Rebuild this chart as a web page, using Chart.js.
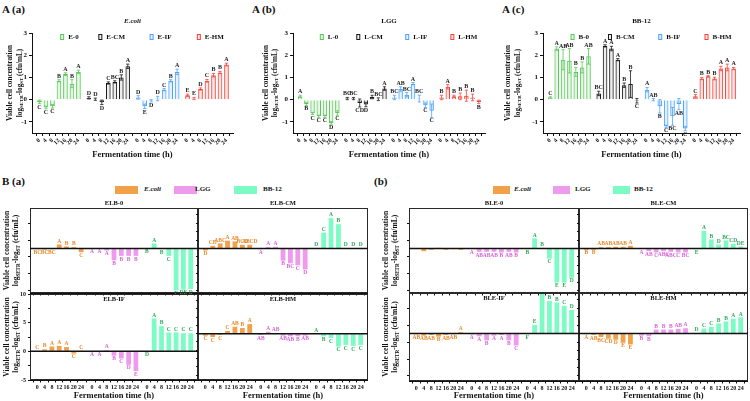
<!DOCTYPE html>
<html lang="en">
<head>
<meta charset="UTF-8">
<title>Viable cell concentration during fermentation</title>
<script src="https://cdn.jsdelivr.net/npm/chart.js"></script>
<style>
  body {
    margin: 0;
    width: 750px;
    height: 401px;
    overflow: hidden;
    position: relative;
    background: #fff;
    font-family: 'Liberation Serif', 'Times New Roman', serif;
    color: #111;
  }
  .lab { position: absolute; font-weight: bold; white-space: nowrap; line-height: 1; }
  .sw { position: absolute; width: 23px; height: 8px; }
  .sw.narrow { width: 17px; }
  canvas { position: absolute; }
</style>
</head>
<body>

<div class="lab" style="left:2px;top:4px;font-size:11px">A (a)</div>
<div class="lab" style="left:252px;top:4px;font-size:11px">A (b)</div>
<div class="lab" style="left:502px;top:4px;font-size:11px">A (c)</div>
<div class="lab" style="left:2px;top:176px;font-size:11px">B (a)</div>
<div class="lab" style="left:374px;top:176px;font-size:11px">(b)</div>

<div class="sw" style="left:115px;top:186px;background:#f2a04a"></div>
<div class="lab" style="left:144px;top:186px;font-size:7px;font-style:italic">E.coli</div>
<div class="sw" style="left:174px;top:186px;background:#ee9bee"></div>
<div class="lab" style="left:195px;top:186px;font-size:7px">LGG</div>
<div class="sw" style="left:234px;top:186px;background:#7dfbc4"></div>
<div class="lab" style="left:263px;top:186px;font-size:7px">BB-12</div>

<div class="sw narrow" style="left:493px;top:186px;background:#f2a04a"></div>
<div class="lab" style="left:514px;top:186px;font-size:7px;font-style:italic">E.coli</div>
<div class="sw narrow" style="left:553px;top:186px;background:#ee9bee"></div>
<div class="lab" style="left:575px;top:186px;font-size:7px">LGG</div>
<div class="sw narrow" style="left:613px;top:186px;background:#7dfbc4"></div>
<div class="lab" style="left:634px;top:186px;font-size:7px">BB-12</div>

<script>
// ---------- data ----------
const timeLabels = ['0', '4', '8', '12', '16', '20', '24'];
const aYTicks = [-1, 0, 1, 2, 3];
const bMajorTicks = [-10, -5, 0, 5, 10];

// A (a) E.coli
const ecoliSeries = ['E-0', 'E-CM', 'E-IF', 'E-HM'];
const ecoliMeans = [
  [-0.10, -0.35, -0.30, 0.85, 1.15, 0.72, 1.25],
  [0.08, 0.02, -0.12, 0.75, 0.80, 1.00, 1.50],
  [0.10, -0.30, -0.05, 0.05, 0.45, 0.85, 1.25],
  [0.20, 0.05, 0.48, 0.85, 1.10, 1.22, 1.58]
];
const ecoliSd = [
  [0.08, 0.06, 0.08, 0.05, 0.06, 0.18, 0.08],
  [0.05, 0.05, 0.10, 0.05, 0.05, 0.12, 0.10],
  [0.08, 0.10, 0.05, 0.10, 0.05, 0.05, 0.12],
  [0.05, 0.05, 0.05, 0.06, 0.08, 0.05, 0.06]
];
const ecoliLetters = [
  ['C', 'C', 'C', 'B', 'A', 'B', 'A'],
  ['D', 'D', 'D', 'C', 'BC', 'B', 'A'],
  ['D', 'E', 'D', 'D', 'C', 'B', 'A'],
  ['E', 'E', 'D', 'C', 'B', 'B', 'A']
];

// A (b) LGG
const lggSeries = ['L-0', 'L-CM', 'L-IF', 'L-HM'];
const lggMeans = [
  [0.15, -0.20, -0.62, -0.75, -0.75, -1.05, -0.60],
  [0.05, 0.05, -0.15, -0.22, 0.12, 0.02, 0.50],
  [0.10, 0.48, 0.22, 0.72, 0.05, -0.25, -0.50],
  [0.10, 0.58, 0.15, 0.15, 0.18, 0.10, -0.10]
];
const lggSd = [
  [0.05, 0.06, 0.05, 0.05, 0.05, 0.06, 0.10],
  [0.05, 0.05, 0.18, 0.10, 0.08, 0.06, 0.08],
  [0.10, 0.10, 0.10, 0.05, 0.15, 0.10, 0.30],
  [0.10, 0.10, 0.05, 0.15, 0.25, 0.15, 0.08]
];
const lggLetters = [
  ['A', 'B', 'C', 'C', 'C', 'D', 'C'],
  ['BC', 'BC', 'CD', 'D', 'B', 'BC', 'A'],
  ['BC', 'AB', 'BC', 'A', 'BC', 'C', 'C'],
  ['B', 'A', 'B', 'B', 'B', 'B', 'B']
];

// A (c) BB-12
const bb12Series = ['B-0', 'B-CM', 'B-IF', 'B-HM'];
const bb12Means = [
  [0.10, 2.30, 1.80, 1.75, 1.25, 1.45, 1.95],
  [0.28, 2.42, 2.30, 1.80, 0.65, 0.70, -0.05],
  [0.45, 0.00, -0.30, -1.20, -0.75, -0.20, -1.30],
  [0.15, 0.95, 1.05, 0.95, 1.40, 1.45, 1.40]
];
const bb12Sd = [
  [0.03, 0.08, 0.45, 0.55, 0.20, 0.25, 0.35],
  [0.10, 0.05, 0.10, 0.05, 0.10, 0.60, 0.10],
  [0.10, 0.05, 0.30, 0.05, 0.40, 0.25, 0.10],
  [0.08, 0.05, 0.03, 0.06, 0.10, 0.15, 0.05]
];
const bb12Letters = [
  ['C', 'A', 'AB', 'AB', 'B', 'B', 'AB'],
  ['BC', 'A', 'A', 'A', 'B', 'B', 'C'],
  ['A', 'AB', 'B', 'C', 'BC', 'AB', 'C'],
  ['C', 'B', 'B', 'B', 'A', 'A', 'A']
];

// B co-cultures: rows are E.coli, LGG, BB-12
const strains = ['E.coli', 'LGG', 'BB-12'];

const elb0Means = [
  [-0.10, -0.15, -0.10, 0.60, 0.30, 0.20, -0.55],
  [-0.05, -0.05, -0.30, -1.75, -1.10, -1.10, -1.10],
  [-0.05, 0.75, -0.10, -1.10, -6.20, -6.10, -6.00]
];
const elb0Letters = [
  ['BC', 'BC', 'BC', 'A', 'B', 'B', 'C'],
  ['A', 'A', 'A', 'B', 'B', 'B', 'B'],
  ['B', 'A', 'B', 'C', 'E', 'DE', 'D']
];
const elbCmMeans = [
  [-0.30, 0.40, 0.75, 1.15, 1.05, 0.55, 0.55],
  [-0.10, 0.20, 0.25, -1.80, -2.20, -2.50, -3.10],
  [0.05, 2.35, 4.50, 3.60, 0.05, 0.05, 0.05]
];
const elbCmLetters = [
  ['D', 'CD', 'ABC', 'A', 'AB', 'BCD', 'ABCD'],
  ['A', 'A', 'A', 'B', 'BC', 'C', 'D'],
  ['D', 'C', 'A', 'B', 'D', 'D', 'D']
];
const elbIfMeans = [
  [0.05, 0.35, 0.85, 0.95, 0.75, -0.40, 0.05],
  [-0.05, -0.05, 0.20, -0.75, -1.25, -2.35, -3.45],
  [-0.05, 5.75, 4.40, 3.30, 3.30, 3.15, 3.15]
];
const elbIfLetters = [
  ['C', 'B', 'A', 'A', 'A', 'C', 'C'],
  ['A', 'A', 'A', 'B', 'C', 'D', 'E'],
  ['D', 'A', 'B', 'C', 'C', 'C', 'C']
];
const elbHmMeans = [
  [-0.30, -0.50, -0.20, 0.40, 1.05, 0.85, 1.45],
  [-0.20, 0.30, 0.10, -0.30, -0.40, -0.40, -0.30],
  [0.05, -0.40, -0.65, -1.95, -1.70, -1.85, -1.70]
];
const elbHmLetters = [
  ['C', 'C', 'C', 'C', 'AB', 'B', 'A'],
  ['AB', 'A', 'AB', 'AB', 'AB', 'B', 'AB'],
  ['A', 'B', 'C', 'C', 'C', 'C', 'C']
];

const ble0Means = [
  [-0.10, -0.40, -0.20, 0.10, -0.20, -0.10, -0.20],
  [-0.10, -0.50, -0.50, -0.50, -0.60, -0.50, -0.60],
  [-0.10, 1.50, 0.10, -1.50, -5.05, -5.05, -4.35]
];
const ble0Letters = [
  ['', '', '', '', '', '', ''],
  ['A', 'AB', 'AB', 'AB', 'B', 'AB', 'B'],
  ['B', 'A', 'B', 'C', 'E', 'E', 'D']
];
const bleCmMeans = [
  [-0.20, -0.20, 0.20, 0.20, 0.25, 0.25, 0.40],
  [-0.10, -0.40, -0.60, -0.40, -0.50, -0.60, -0.60],
  [-0.10, 2.60, 1.35, 0.60, 1.20, 0.70, 0.30]
];
const bleCmLetters = [
  ['B', 'B', 'AB', 'AB', 'AB', 'AB', 'A'],
  ['A', 'AB', 'C', 'ABC', 'ABC', 'C', 'BC'],
  ['E', 'A', 'B', 'D', 'BC', 'CD', 'DE']
];
const bleIfMeans = [
  [-0.10, -0.30, -0.20, -0.45, -0.20, -0.10, 0.20],
  [-0.10, -0.40, -1.00, -0.30, -0.20, -1.00, -1.75],
  [-0.10, 1.30, 6.10, 4.85, 4.60, 4.10, 3.50]
];
const bleIfLetters = [
  ['AB', 'AB', 'AB', 'B', 'AB', 'AB', 'A'],
  ['A', 'A', 'B', 'A', 'A', 'B', 'C'],
  ['F', 'E', 'A', 'B', 'B', 'C', 'D']
];
const bleHmMeans = [
  [-0.10, -0.20, -0.50, -0.75, -0.90, -1.35, -1.60],
  [-0.30, -0.40, 0.60, 0.60, 0.60, 0.70, 0.80],
  [0.10, 0.75, 1.00, 1.50, 1.80, 2.20, 2.40]
];
const bleHmLetters = [
  ['A', 'AB', 'BC', 'CD', 'D', 'E', 'E'],
  ['B', 'B', 'B', 'B', 'B', 'AB', 'A'],
  ['D', 'C', 'C', 'B', 'B', 'A', 'A']
];

// ---------- styling ----------
const SERIF = "'Liberation Serif', 'Times New Roman', serif";
const groupColors = ['#57c957', '#1a1a1a', '#4aa3ff', '#f0463c'];
const groupFills = ['rgba(87,201,87,0.15)', 'rgba(26,26,26,0.08)', 'rgba(74,163,255,0.15)', 'rgba(240,70,60,0.15)'];
const strainFills = ['#f2a04a', '#ee9bee', '#7dfbc4'];
const strainText = ['#e8892a', '#d763d7', '#2ea85a'];
const yTitle1 = 'Viable cell concentration';
const yTitle2 = [{ t: 'log' }, { t: 'SETR', sub: true }, { t: '-log' }, { t: 'ST', sub: true }, { t: ' (cfu/mL)' }];

const A_STRIDE = 7.6;   // slots between time-series groups, top row
const B_STRIDE = 7.5;   // bottom row

Chart.defaults.font.family = SERIF;
Chart.defaults.font.weight = 'bold';
Chart.defaults.color = '#111';
Chart.defaults.animation = false;
Chart.defaults.plugins.legend.display = false;
Chart.defaults.plugins.tooltip.enabled = false;

function slotPositions(groups, stride) {
  const out = [];
  for (let g = 0; g < groups; g++) {
    timeLabels.forEach((_, i) => out.push(g * stride + i));
  }
  return out;
}

// error bars + significance letters
const marks = {
  id: 'marks',
  afterDatasetsDraw(chart, args, opts) {
    const { ctx } = chart;
    const y = chart.scales.y;
    ctx.save();
    ctx.font = `bold ${opts.size}px ${SERIF}`;
    ctx.textAlign = 'center';
    chart.data.datasets.forEach((ds, di) => {
      chart.getDatasetMeta(di).data.forEach((bar, j) => {
        const v = ds.data[j].y;
        const e = ds.err ? ds.err[j] : 0;
        const up = v >= 0;
        if (e) {
          const y1 = y.getPixelForValue(v + e), y2 = y.getPixelForValue(v - e);
          const w = bar.width * 0.35;
          ctx.strokeStyle = ds.borderColor;
          ctx.lineWidth = 0.8;
          ctx.beginPath();
          ctx.moveTo(bar.x, y1); ctx.lineTo(bar.x, y2);
          ctx.moveTo(bar.x - w, y1); ctx.lineTo(bar.x + w, y1);
          ctx.moveTo(bar.x - w, y2); ctx.lineTo(bar.x + w, y2);
          ctx.stroke();
        }
        const tip = y.getPixelForValue(up ? v + e : v - e);
        ctx.fillStyle = ds.textColor;
        ctx.textBaseline = up ? 'bottom' : 'top';
        ctx.fillText(ds.letters[j], bar.x, up ? tip - 0.5 : tip + 0.5);
      });
    });
    ctx.restore();
  }
};

function drawYTitle(ctx, area, o) {
  const cy = (area.top + area.bottom) / 2;
  const s = o.size;
  ctx.save();
  ctx.fillStyle = '#111';
  ctx.textBaseline = 'middle';
  ctx.translate(o.x1, cy);
  ctx.rotate(-Math.PI / 2);
  ctx.font = `bold ${s}px ${SERIF}`;
  ctx.textAlign = 'center';
  ctx.fillText(yTitle1, 0, 0);
  ctx.restore();

  ctx.save();
  ctx.fillStyle = '#111';
  ctx.textBaseline = 'middle';
  ctx.translate(o.x2, cy);
  ctx.rotate(-Math.PI / 2);
  const fontFor = p => `bold ${p.sub ? s * 0.68 : s}px ${SERIF}`;
  let total = 0;
  yTitle2.forEach(p => { ctx.font = fontFor(p); total += ctx.measureText(p.t).width; });
  let x = -total / 2;
  ctx.textAlign = 'left';
  yTitle2.forEach(p => {
    ctx.font = fontFor(p);
    ctx.fillText(p.t, x, p.sub ? s * 0.3 : 0);
    x += ctx.measureText(p.t).width;
  });
  ctx.restore();
}

// titles, legends, frames
const deco = {
  id: 'deco',
  afterDraw(chart, args, o) {
    const { ctx, chartArea: a } = chart;
    const cx = (a.left + a.right) / 2;
    ctx.save();
    if (o.frame) {
      ctx.strokeStyle = '#2a2a2a';
      ctx.lineWidth = 1;
      ctx.strokeRect(a.left + 0.5, a.top + 0.5, a.width - 1, a.height - 1);
      const y0 = chart.scales.y.getPixelForValue(0);
      ctx.strokeStyle = '#111';
      ctx.lineWidth = 1.5;
      ctx.beginPath(); ctx.moveTo(a.left, y0); ctx.lineTo(a.right, y0); ctx.stroke();
    }
    if (o.title) {
      ctx.fillStyle = '#111';
      ctx.font = `${o.title.italic ? 'italic ' : ''}bold ${o.title.size}px ${SERIF}`;
      ctx.textAlign = 'center';
      ctx.textBaseline = 'middle';
      ctx.fillText(o.title.text, cx, a.top + o.title.dy);
    }
    if (o.legend) {
      chart.data.datasets.forEach((ds, i) => {
        const x = a.left + a.width * o.legend[i];
        const y = a.top + 4;
        ctx.lineWidth = 1;
        ctx.strokeStyle = ds.borderColor;
        ctx.fillStyle = ds.backgroundColor;
        ctx.fillRect(x - 1.5, y - 2.5, 3, 5);
        ctx.strokeRect(x - 1.5, y - 2.5, 3, 5);
        ctx.fillStyle = '#111';
        ctx.font = `bold 7px ${SERIF}`;
        ctx.textAlign = 'left';
        ctx.textBaseline = 'middle';
        ctx.fillText(ds.label, x + 6, y);
      });
    }
    ctx.restore();
    if (o.yTitle) drawYTitle(ctx, a, o.yTitle);
  }
};

function makeCanvas(left, top, width, height) {
  const c = document.createElement('canvas');
  c.width = width; c.height = height;
  c.style.left = left + 'px'; c.style.top = top + 'px';
  document.body.appendChild(c);
  return c;
}

const axisLine = { color: '#111', width: 1 };
const tickGrid = { display: true, drawOnChartArea: false, tickLength: 3, color: '#111' };

function topChart(canvas, p) {
  const n = p.means.length;
  return new Chart(canvas, {
    type: 'bar',
    data: {
      datasets: p.means.map((vals, g) => ({
        label: p.series[g],
        data: vals.map((v, i) => ({ x: g * A_STRIDE + i, y: v })),
        err: p.sd[g],
        letters: p.letters[g],
        textColor: '#1a1a1a',
        borderColor: groupColors[g],
        backgroundColor: groupFills[g],
        borderWidth: 1,
        grouped: false,
        barPercentage: 0.72,
        categoryPercentage: 1
      }))
    },
    options: {
      responsive: false,
      layout: { padding: { top: 33, right: p.padRight, left: 0, bottom: 0 } },
      scales: {
        x: {
          type: 'linear',
          min: -0.6,
          max: (n - 1) * A_STRIDE + 6.45,
          afterBuildTicks: s => { s.ticks = slotPositions(n, A_STRIDE).map(v => ({ value: v })); },
          afterFit: s => { s.height = 27; s.paddingLeft = 0; s.paddingRight = 0; },
          ticks: { autoSkip: false, minRotation: 45, maxRotation: 45, padding: 1, font: { size: 6 },
                   callback: (v, i) => timeLabels[i % timeLabels.length] },
          grid: tickGrid,
          border: axisLine,
          title: { display: true, text: 'Fermentation time (h)', font: { size: 8.5 }, padding: 0 }
        },
        y: {
          min: -1.5,
          max: 3,
          afterBuildTicks: s => { s.ticks = aYTicks.map(v => ({ value: v })); },
          afterFit: s => { s.width = p.yw; s.paddingTop = 0; s.paddingBottom = 0; },
          ticks: { font: { size: 7 }, padding: 2 },
          grid: tickGrid,
          border: axisLine
        }
      },
      plugins: {
        marks: { size: 6 },
        deco: {
          title: { text: p.title, italic: p.italic, size: 7, dy: -12 },
          legend: [0.15, 0.34, 0.595, 0.83],
          yTitle: { x1: p.tx1, x2: p.tx2, size: 7.2 }
        }
      }
    },
    plugins: [marks, deco]
  });
}

function subChart(canvas, p) {
  return new Chart(canvas, {
    type: 'bar',
    data: {
      datasets: p.means.map((vals, g) => ({
        label: strains[g],
        data: vals.map((v, i) => ({ x: g * B_STRIDE + i, y: v })),
        letters: p.letters[g],
        textColor: strainText[g],
        backgroundColor: strainFills[g],
        borderWidth: 0,
        grouped: false,
        barPercentage: 0.65,
        categoryPercentage: 1
      }))
    },
    options: {
      responsive: false,
      layout: { padding: { top: p.padTop, right: 0, left: 0, bottom: 0 } },
      scales: {
        x: {
          type: 'linear',
          min: -0.45,
          max: 2 * B_STRIDE + 6.45,
          afterBuildTicks: s => { s.ticks = slotPositions(3, B_STRIDE).map(v => ({ value: v })); },
          afterFit: s => { s.height = p.xh; s.paddingLeft = 0; s.paddingRight = 0; },
          ticks: { display: p.bottom, autoSkip: false, maxRotation: 0, padding: 1, font: { size: 6 },
                   callback: (v, i) => timeLabels[i % timeLabels.length] },
          grid: { ...tickGrid, tickLength: 2.5 },
          border: axisLine,
          title: { display: p.bottom, text: 'Fermentation time (h)', font: { size: 8.5 }, padding: 0 }
        },
        y: {
          min: p.yMin,
          max: p.yMax,
          afterBuildTicks: s => {
            const t = [];
            for (let v = Math.ceil(p.yMin / 1.25) * 1.25; v <= p.yMax + 1e-9; v += 1.25) t.push({ value: v });
            s.ticks = t;
          },
          afterFit: s => { s.width = p.yw; s.paddingTop = 0; s.paddingBottom = 0; },
          ticks: { display: p.left, padding: 2, font: { size: 6 },
                   callback: v => (bMajorTicks.includes(v) ? String(v) : '') },
          grid: { ...tickGrid, tickLength: 2 },
          border: axisLine
        }
      },
      plugins: {
        marks: { size: 5.5 },
        deco: {
          frame: true,
          title: { text: p.name, size: 6.5, dy: p.titleDy },
          yTitle: p.left ? { x1: p.tx1, x2: p.tx2, size: 7.5 } : null
        }
      }
    },
    plugins: [marks, deco]
  });
}

// ---------- top row ----------
topChart(makeCanvas(0, 0, 240, 160), {
  series: ecoliSeries, means: ecoliMeans, sd: ecoliSd, letters: ecoliLetters,
  title: 'E.coli', italic: true, yw: 32, padRight: 7, tx1: 10, tx2: 20
});
topChart(makeCanvas(250, 0, 240, 160), {
  series: lggSeries, means: lggMeans, sd: lggSd, letters: lggLetters,
  title: 'LGG', italic: false, yw: 43, padRight: 5, tx1: 16, tx2: 25
});
topChart(makeCanvas(500, 0, 250, 160), {
  series: bb12Series, means: bb12Means, sd: bb12Sd, letters: bb12Letters,
  title: 'BB-12', italic: false, yw: 43, padRight: 10, tx1: 8, tx2: 18
});

// ---------- B (a) ----------
subChart(makeCanvas(0, 198, 198, 98), {
  name: 'ELB-0', means: elb0Means, letters: elb0Letters, yMin: -6.6, yMax: 6,
  left: true, bottom: false, yw: 30, padTop: 10, xh: 3, titleDy: -5, tx1: 7, tx2: 16
});
subChart(makeCanvas(195, 198, 173, 98), {
  name: 'ELB-CM', means: elbCmMeans, letters: elbCmLetters, yMin: -6.6, yMax: 6,
  left: false, bottom: false, yw: 3, padTop: 10, xh: 3, titleDy: -5
});
subChart(makeCanvas(0, 290, 198, 111), {
  name: 'ELB-IF', means: elbIfMeans, letters: elbIfLetters, yMin: -5, yMax: 10,
  left: true, bottom: true, yw: 30, padTop: 4, xh: 21, titleDy: 5, tx1: 7, tx2: 16
});
subChart(makeCanvas(195, 290, 173, 111), {
  name: 'ELB-HM', means: elbHmMeans, letters: elbHmLetters, yMin: -7, yMax: 6,
  left: false, bottom: true, yw: 3, padTop: 4, xh: 21, titleDy: 5
});

// ---------- B (b) ----------
subChart(makeCanvas(370, 198, 209, 98), {
  name: 'BLE-0', means: ble0Means, letters: ble0Letters, yMin: -6.6, yMax: 6,
  left: true, bottom: false, yw: 39, padTop: 10, xh: 3, titleDy: -5, tx1: 16, tx2: 25
});
subChart(makeCanvas(576, 198, 172, 98), {
  name: 'BLE-CM', means: bleCmMeans, letters: bleCmLetters, yMin: -6.6, yMax: 6,
  left: false, bottom: false, yw: 3, padTop: 10, xh: 3, titleDy: -5
});
subChart(makeCanvas(370, 290, 209, 111), {
  name: 'BLE-IF', means: bleIfMeans, letters: bleIfLetters, yMin: -7, yMax: 6,
  left: true, bottom: true, yw: 39, padTop: 3, xh: 20, titleDy: 5, tx1: 16, tx2: 25
});
subChart(makeCanvas(576, 290, 172, 111), {
  name: 'BLE-HM', means: bleHmMeans, letters: bleHmLetters, yMin: -7, yMax: 6,
  left: false, bottom: true, yw: 3, padTop: 3, xh: 20, titleDy: 5
});
</script>
</body>
</html>
